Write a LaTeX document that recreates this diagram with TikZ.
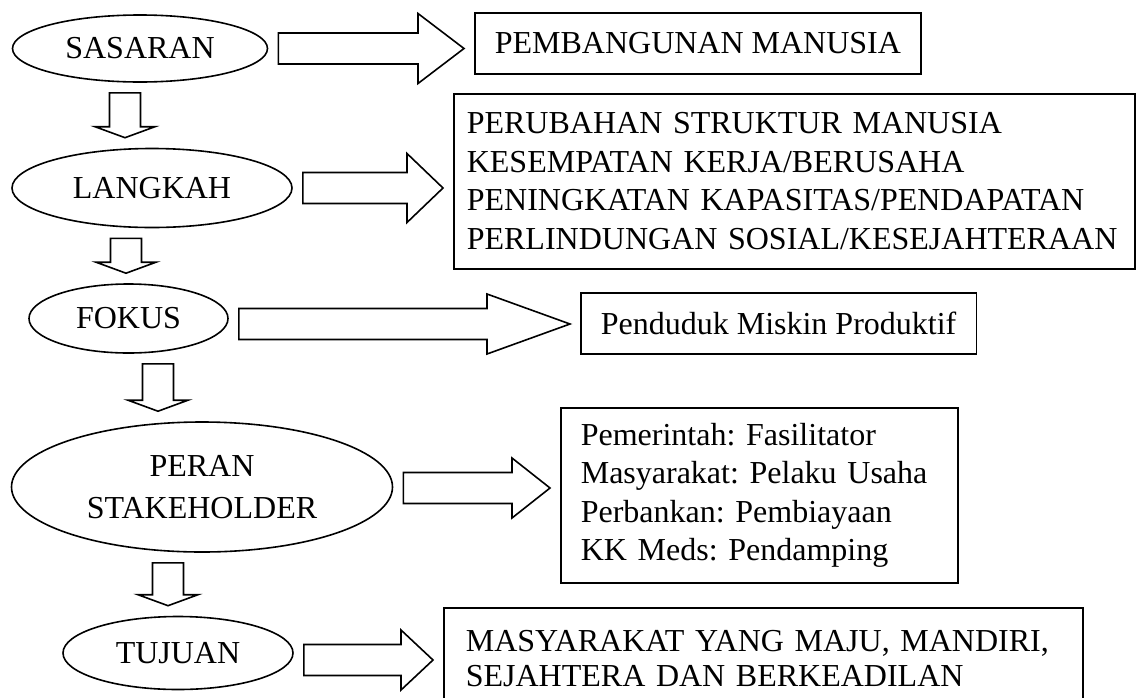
\documentclass[tikz,border=0pt]{standalone}
\usepackage{fontspec}
\setmainfont{Liberation Serif}
\frenchspacing
\usetikzlibrary{shapes.geometric,positioning,calc}

\tikzset{
  oval/.style={draw, ellipse, line width=1.6pt, inner sep=0pt, align=center, font=\fontsize{32}{42}\selectfont},
  infobox/.style={draw, rectangle, line width=1.6pt, inner xsep=20pt, inner ysep=6pt, align=left, anchor=north west, font=\fontsize{32}{38.5}\selectfont},
  blockarrow/.style={draw, line width=1.6pt, line join=miter, fill=white},
}

% wide arrow from an oval to its box: [shift down]{from}{to}{head length}{head half height}
\newcommand{\rightblock}[5][0pt]{%
  \draw[blockarrow] let \p1=(#2.east), \p2=(#3.west) in
    (\x1+10pt,\y1-#1+15.5pt) -- (\x2-10pt-#4,\y1-#1+15.5pt) -- (\x2-10pt-#4,\y1-#1+#5)
    -- (\x2-10pt,\y1-#1) -- (\x2-10pt-#4,\y1-#1-#5) -- (\x2-10pt-#4,\y1-#1-15.5pt)
    -- (\x1+10pt,\y1-#1-15.5pt) -- cycle;}
% wide arrow down from one oval to the next, at x = #3
\newcommand{\downblock}[3]{%
  \draw[blockarrow] let \p1=(#1.south), \p2=(#2.north), \p3=(#3,0) in
    (\x3-15.5pt,\y1-10pt) -- (\x3+15.5pt,\y1-10pt) -- (\x3+15.5pt,\y2+21pt) -- (\x3+30pt,\y2+21pt)
    -- (\x3,\y2+10pt) -- (\x3-30pt,\y2+21pt) -- (\x3-15.5pt,\y2+21pt) -- cycle;}

\begin{document}
\begin{tikzpicture}[x=1pt, y=-1pt]
  \useasboundingbox (0,0) rectangle (1144,697);

  \node[oval, minimum width=255pt, minimum height=67pt]  (sasaran) at (140,48.5)  {SASARAN};
  \node[oval, minimum width=280pt, minimum height=79pt]  (langkah) at (152,188)   {LANGKAH};
  \node[oval, minimum width=199pt, minimum height=69pt]  (fokus)   at (128.5,318.5) {FOKUS};
  \node[oval, minimum width=381pt, minimum height=130pt] (peran)   at (202,487)   {PERAN\\STAKEHOLDER};
  \node[oval, minimum width=230pt, minimum height=73pt]  (tujuan)  at (178,653)   {TUJUAN};

  \node[infobox, minimum height=61pt] (pembangunan) at (474,12) {PEMBANGUNAN MANUSIA};
  \node[infobox, inner xsep=13pt, text width=655pt, minimum height=175pt] (perubahan) at (453,93)
    {PERUBAHAN STRUKTUR MANUSIA\\KESEMPATAN KERJA/BERUSAHA\\PENINGKATAN KAPASITAS/PENDAPATAN\\PERLINDUNGAN SOSIAL/KESEJAHTERAAN};
  \node[infobox, minimum height=61pt] (penduduk) at (580,292) {Penduduk Miskin Produktif};
  \node[infobox, text width=357pt, minimum height=175pt] (pelaku) at (560,407)
    {Pemerintah: Fasilitator\\Masyarakat: Pelaku Usaha\\Perbankan: Pembiayaan\\KK Meds: Pendamping};
  \node[infobox, inner xsep=22pt, text width=595pt, minimum height=102pt,
        font=\fontsize{32}{35}\selectfont] (hasil) at (443,607)
    {MASYARAKAT YANG MAJU, MANDIRI,\\SEJAHTERA DAN BERKEADILAN};

  \rightblock{sasaran}{pembangunan}{46pt}{35pt}
  \rightblock{langkah}{perubahan}{36pt}{34.5pt}
  \rightblock[5.5pt]{fokus}{penduduk}{83pt}{30pt}
  \rightblock[1pt]{peran}{pelaku}{38pt}{30pt}
  \rightblock[7pt]{tujuan}{hasil}{32pt}{30pt}

  \downblock{sasaran}{langkah}{125}
  \downblock{langkah}{fokus}{126}
  \downblock{fokus}{peran}{158}
  \downblock{peran}{tujuan}{168}
\end{tikzpicture}
\end{document}
